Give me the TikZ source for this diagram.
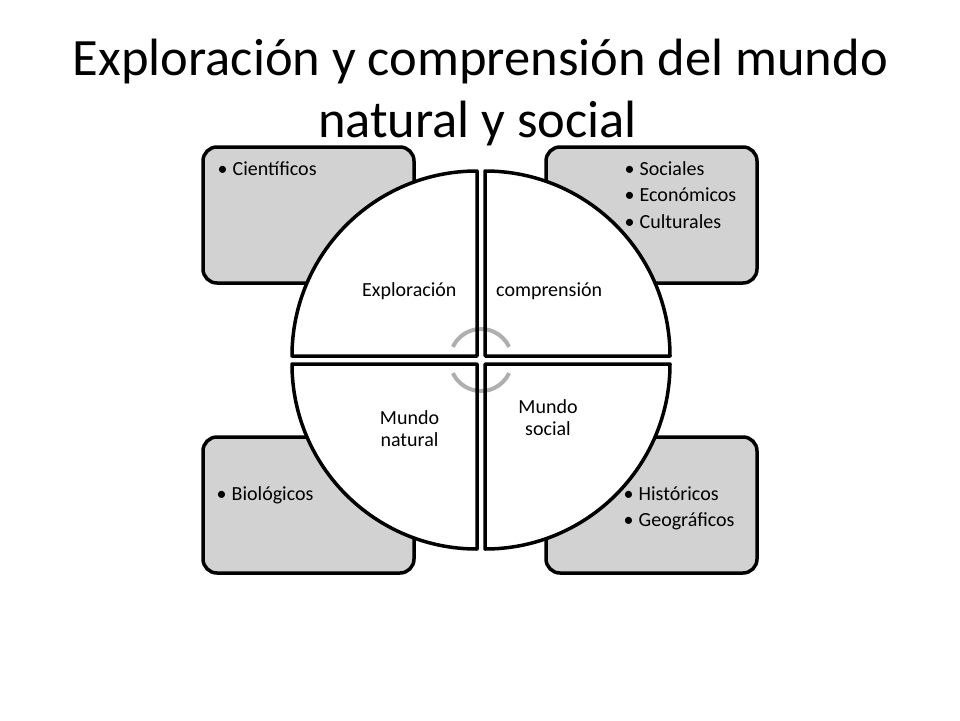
\documentclass[tikz,border=0pt]{standalone}
\usepackage{fontspec}
\setmainfont{Carlito}
\definecolor{boxgray}{RGB}{210,210,210}
\definecolor{arcgray}{RGB}{175,175,175}
\tikzset{
  catbox/.style={draw=black, line width=3.5pt, fill=boxgray, rounded corners=14pt},
  quarterfill/.style={fill=white},
  quarterline/.style={draw=black, line width=3.5pt, line join=round},
  cyclearc/.style={draw=arcgray, line width=4pt},
  titletext/.style={font=\fontsize{52.5}{62}\selectfont, inner sep=0pt, anchor=base},
  labeltext/.style={font=\fontsize{20}{22}\selectfont, inner sep=0pt, align=center},
  listtext/.style={font=\fontsize{20}{26.5}\selectfont, inner sep=0pt, align=left, anchor=north west},
}
\newcommand{\bitem}[1]{\strut\makebox[15pt][l]{•}#1}
\begin{document}
\begin{tikzpicture}[x=1pt,y=1pt]
\useasboundingbox (0,0) rectangle (960,-720);
% title
\node[titletext] (title1) at (480.5,-75) {Exploración y comprensión del mundo};
\node[titletext] (title2) at (477.5,-137) {natural y social};
% category boxes
\path[catbox] (203,-147) rectangle (414,-283);
\path[catbox] (546,-147) rectangle (757,-283);
\path[catbox] (203,-437) rectangle (414,-573);
\path[catbox] (546,-437) rectangle (757,-573);
% quarter fills
\path[quarterfill] (477,-356) -- (292,-356) arc[start angle=180, end angle=90, radius=185] -- cycle;
\path[quarterfill] (485,-356) -- (485,-171) arc[start angle=90, end angle=0, radius=185] -- cycle;
\path[quarterfill] (477,-364) -- (292,-364) arc[start angle=180, end angle=270, radius=185] -- cycle;
\path[quarterfill] (485,-364) -- (670,-364) arc[start angle=0, end angle=-90, radius=185] -- cycle;
% cycle arcs
\coordinate (hub) at (481,-360);
\draw[cyclearc] (hub) ++(155:31) arc[start angle=155, end angle=25, radius=31];
\draw[cyclearc] (hub) ++(205:31) arc[start angle=205, end angle=335, radius=31];
% quarter outlines
\path[quarterline] (477,-356) -- (292,-356) arc[start angle=180, end angle=90, radius=185] -- cycle;
\path[quarterline] (485,-356) -- (485,-171) arc[start angle=90, end angle=0, radius=185] -- cycle;
\path[quarterline] (477,-364) -- (292,-364) arc[start angle=180, end angle=270, radius=185] -- cycle;
\path[quarterline] (485,-364) -- (670,-364) arc[start angle=0, end angle=-90, radius=185] -- cycle;
% quarter labels
\node[labeltext, anchor=base west] (expl) at (362,-296) {Exploración};
\node[labeltext, anchor=base west] (comp) at (496,-296) {comprensión};
\node[labeltext] (natural) at (409.5,-429) {Mundo\\natural};
\node[labeltext] (social) at (548,-418) {Mundo\\social};
% lists
\node[listtext] (listTL) at (217.5,-156.5) {\bitem{Científicos}};
\node[listtext] (listTR) at (624.5,-156.5) {\bitem{Sociales}\\\bitem{Económicos}\\\bitem{Culturales}};
\node[listtext] (listBL) at (216.5,-481.5) {\bitem{Biológicos}};
\node[listtext] (listBR) at (623.5,-481.5) {\bitem{Históricos}\\\bitem{Geográficos}};
\end{tikzpicture}
\end{document}
